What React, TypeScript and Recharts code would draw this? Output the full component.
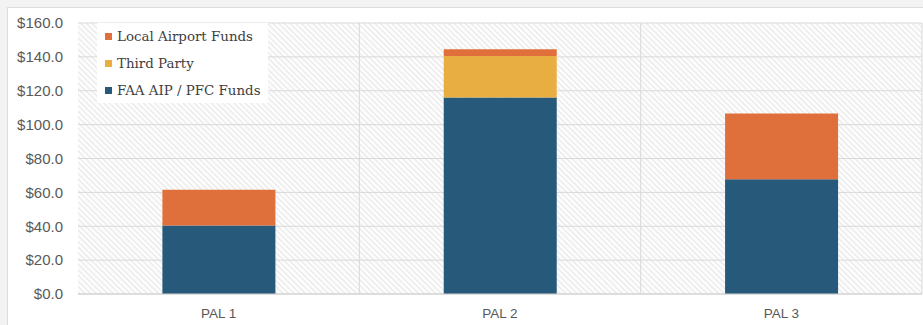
import { BarChart, Bar, XAxis, YAxis, CartesianGrid } from "recharts"

const categories = ["PAL 1", "PAL 2", "PAL 3"]
const faaAipPfc = [40.5, 116, 67.8]
const thirdParty = [0, 24.5, 0]
const localAirport = [21, 4, 38.8]
const yTicks = [0, 20, 40, 60, 80, 100, 120, 140, 160]

const series = [
  { key: "faa", name: "FAA AIP / PFC Funds", color: "#27597b", values: faaAipPfc },
  { key: "third", name: "Third Party", color: "#e8ae42", values: thirdParty },
  { key: "local", name: "Local Airport Funds", color: "#df703b", values: localAirport },
]

const data = categories.map((name, i) => {
  const row: Record<string, string | number> = { name }
  series.forEach((s) => (row[s.key] = s.values[i]))
  return row
})

const axisFont = "'Liberation Sans', Arial, sans-serif"

export default function App() {
  return (
    <div style={{ position: "relative", width: 923, height: 325, background: "#f3f3f3", overflow: "hidden" }}>
      <style>{`body{margin:0}`}</style>
      <div
        style={{
          position: "absolute",
          left: 7,
          top: 7,
          width: 916,
          height: 318,
          background: "#fff",
          borderLeft: "1px solid #dedede",
          borderTop: "1px solid #dedede",
          boxSizing: "border-box",
        }}
      />
      <div style={{ position: "absolute", left: 0, top: 0 }}>
        <BarChart
          width={923}
          height={325}
          data={data}
          margin={{ top: 23, right: 1, left: 0, bottom: 1 }}
          barCategoryGap="30%"
        >
          <defs>
            <pattern id="hatch" width="4" height="4" patternUnits="userSpaceOnUse" patternTransform="rotate(-45)">
              <rect width="4" height="4" fill="#fcfcfc" />
              <line x1="0" y1="0" x2="0" y2="4" stroke="#dfdfdf" strokeWidth="1.5" />
            </pattern>
          </defs>
          <CartesianGrid
            fill="url(#hatch)"
            stroke="#d9d9d9"
            verticalCoordinatesGenerator={({ offset }: any) =>
              categories.map((_, i) => offset.left + ((i + 1) * offset.width) / categories.length)
            }
          />
          <XAxis
            dataKey="name"
            height={30}
            tickLine={false}
            axisLine={{ stroke: "#d0d0d0" }}
            tickMargin={8}
            tick={{ fill: "#595959", fontSize: 13.5, fontFamily: axisFont }}
          />
          <YAxis
            width={78}
            domain={[0, 160]}
            ticks={yTicks}
            tickLine={false}
            axisLine={false}
            tickMargin={9}
            tickFormatter={(v: number) => `$${v.toFixed(1)}`}
            tick={{ fill: "#595959", fontSize: 15, fontFamily: axisFont }}
          />
          {series.map((s) => (
            <Bar key={s.key} dataKey={s.key} name={s.name} stackId="funds" fill={s.color} isAnimationActive={false} />
          ))}
        </BarChart>
      </div>
      <div
        style={{
          position: "absolute",
          left: 97,
          top: 23,
          width: 171,
          height: 80,
          background: "#fff",
          fontFamily: "'DejaVu Serif', serif",
          fontSize: 13.4,
          color: "#404040",
        }}
      >
        {[...series].reverse().map((s, i) => (
          <div
            key={s.key}
            style={{ position: "absolute", left: 8, top: 4 + i * 27, height: 18, display: "flex", alignItems: "center", whiteSpace: "nowrap" }}
          >
            <span style={{ display: "inline-block", width: 7, height: 7, background: s.color, marginRight: 5 }} />
            {s.name}
          </div>
        ))}
      </div>
    </div>
  )
}
